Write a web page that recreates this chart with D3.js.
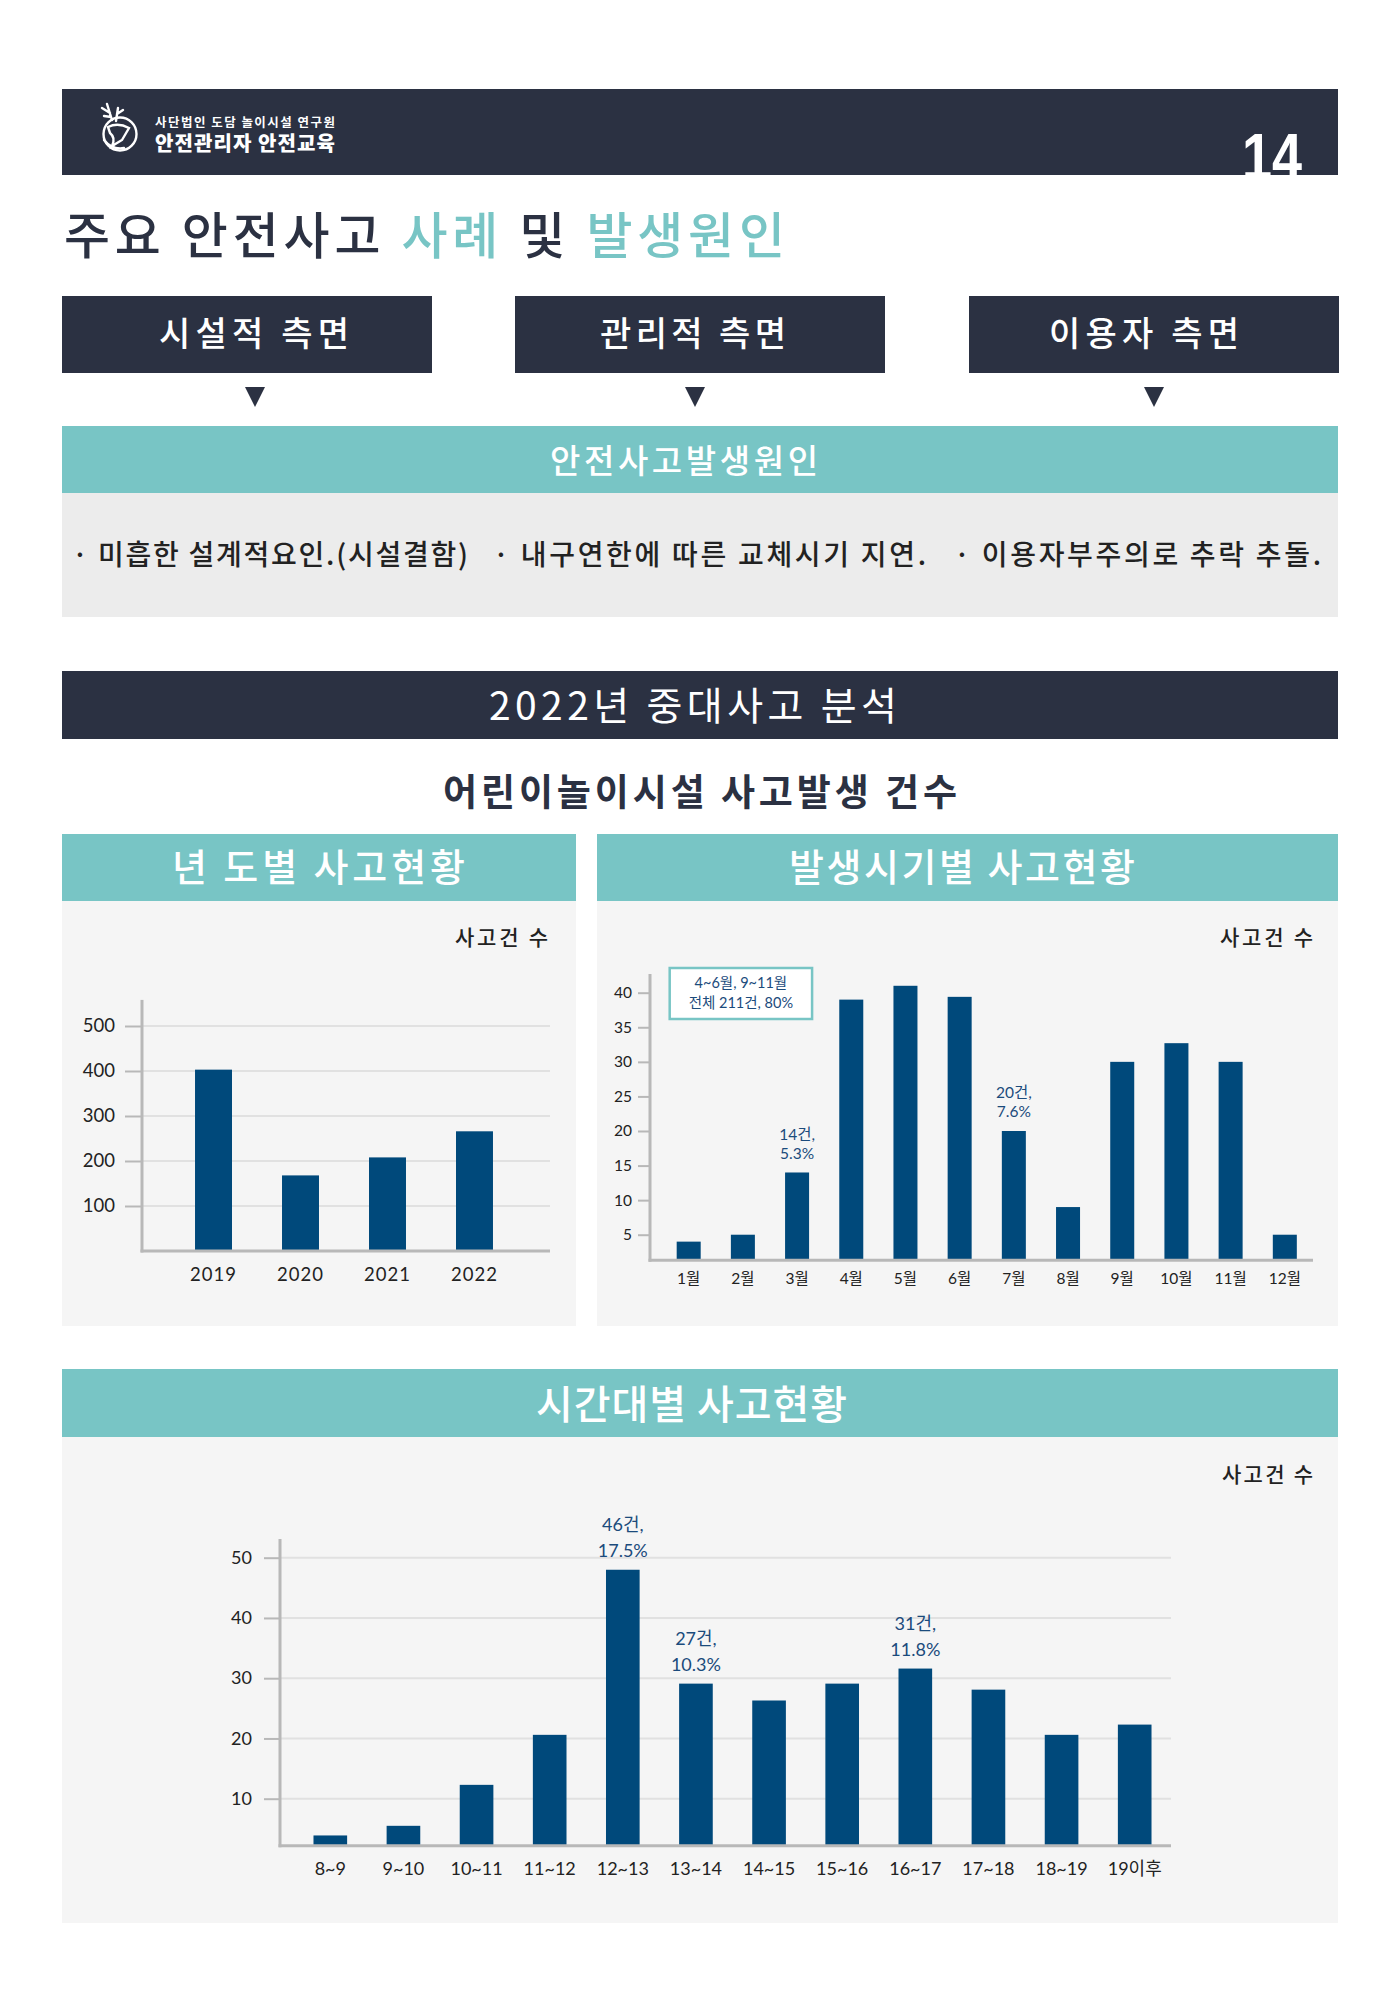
<!DOCTYPE html>
<html><head><meta charset="utf-8">
<script src="https://cdn.jsdelivr.net/npm/d3@7"></script>
<style>
html,body{margin:0;padding:0;background:#fff;}
svg{display:block;}
text{font-family:"Noto Sans CJK KR","Noto Sans",sans-serif;}
.num{font-family:Lato,"Noto Sans CJK KR",sans-serif;}
</style></head>
<body>
<script>
// ---------- data ----------
const years = ["2019", "2020", "2021", "2022"];
const yearValues = [403, 168, 208, 266];
const yearTicks = [100, 200, 300, 400, 500];

const months = ["1월","2월","3월","4월","5월","6월","7월","8월","9월","10월","11월","12월"];
const monthValues = [4, 5, 14, 39, 41, 39.4, 20, 9, 30, 32.7, 30, 5];
const monthTicks = [5, 10, 15, 20, 25, 30, 35, 40];
const monthNotes = [{cat: "3월", lines: ["14건,", "5.3%"]}, {cat: "7월", lines: ["20건,", "7.6%"]}];
const monthBoxLines = ["4~6월, 9~11월", "전체 211건, 80%"];

const hours = ["8~9","9~10","10~11","11~12","12~13","13~14","14~15","15~16","16~17","17~18","18~19","19이후"];
const hourValues = [3.9, 5.5, 12.3, 20.6, 48, 29.1, 26.3, 29.1, 31.6, 28.1, 20.6, 22.3];
const hourTicks = [10, 20, 30, 40, 50];
const hourNotes = [{cat: "12~13", lines: ["46건,", "17.5%"]}, {cat: "13~14", lines: ["27건,", "10.3%"]}, {cat: "16~17", lines: ["31건,", "11.8%"]}];

const sideLabels = ["시설적 측면", "관리적 측면", "이용자 측면"];
const causes = ["· 미흡한 설계적요인.(시설결함)", "· 내구연한에 따른 교체시기 지연.", "· 이용자부주의로 추락 추돌."];

// ---------- styles ----------
const NAVY = "#2b3142", TEAL = "#78c5c5", BAR = "#00497b", NOTE = "#1b4b7c";
const AXIS = "#b8b8b8", GRID = "#e1e1e1", PANEL = "#f5f5f5", TXT = "#222";

const svg = d3.select("body").append("svg").attr("width", 1400).attr("height", 2002);
svg.append("rect").attr("width", 1400).attr("height", 2002).attr("fill", "#fff");

// fit helper: spreads letters so text spans given width
function fit(sel, w) {
  sel.each(function() {
    this.style.letterSpacing = "0px";
    const n = this.textContent.length;
    const L = this.getComputedTextLength();
    this.style.letterSpacing = ((w - L) / Math.max(1, n - 1)) + "px";
  });
  return sel;
}
function txt(g, s, x, y, size, opts = {}) {
  const t = g.append("text").attr("x", x).attr("y", y).attr("font-size", size)
    .attr("fill", opts.fill || TXT).attr("font-weight", opts.weight || 400)
    .attr("text-anchor", opts.anchor || "start").text(s);
  if (opts.cls) t.attr("class", opts.cls);
  if (opts.w) fit(t, opts.w);
  return t;
}

// ---------- header ----------
svg.append("rect").attr("x", 62).attr("y", 89).attr("width", 1276).attr("height", 86).attr("fill", NAVY);
const logo = svg.append("g").attr("fill", "none").attr("stroke", "#fff").attr("stroke-width", 2.4).attr("stroke-linecap", "round");
logo.append("circle").attr("cx", 120).attr("cy", 134).attr("r", 16.5);
logo.append("path").attr("d", "M112,120 L107,104 M110,113 L102,108 M111,117 L104,116 M116,121 L118,108 M117,114 L123,110");
logo.append("path").attr("d", "M108,127 Q118,122 129,128 L122,140 L112,146 Q116,138 110,133 Z");
logo.append("path").attr("d", "M104,140 Q112,150 124,148");
txt(svg, "사단법인 도담 놀이시설 연구원", 155, 127, 12.5, {fill: "#fff", weight: 700, w: 180});
txt(svg, "안전관리자 안전교육", 155, 151, 20, {fill: "#fff", weight: 900, w: 180});
svg.append("text").attr("x", 1242).attr("y", 179).attr("font-size", 64).attr("font-weight", 700)
  .attr("fill", "#fff").style("font-family", "'Liberation Sans Narrow','Liberation Sans',sans-serif")
  .attr("textLength", 60).attr("lengthAdjust", "spacingAndGlyphs").text("14");

// ---------- title ----------
const title = svg.append("text").attr("x", 64).attr("y", 254).attr("font-size", 50).attr("font-weight", 500).attr("fill", NAVY);
title.append("tspan").text("주요 안전사고 ");
title.append("tspan").attr("fill", TEAL).text("사례");
title.append("tspan").text(" 및 ");
title.append("tspan").attr("fill", TEAL).text("발생원인");
fit(title, 721);

// ---------- three aspects ----------
const boxX = [62, 515, 969], boxW = 370;
const labelX = [159, 600, 1049], labelW = [190, 186, 190];
const triX = [255, 695, 1154];
sideLabels.forEach((s, i) => {
  svg.append("rect").attr("x", boxX[i]).attr("y", 296).attr("width", boxW).attr("height", 77).attr("fill", NAVY);
  txt(svg, s, labelX[i], 346, 34, {fill: "#fff", weight: 500, w: labelW[i]});
  svg.append("path").attr("d", `M${triX[i]-10},387 L${triX[i]+10},387 L${triX[i]},407 Z`).attr("fill", NAVY);
});
svg.append("rect").attr("x", 62).attr("y", 426).attr("width", 1276).attr("height", 67).attr("fill", TEAL);
txt(svg, "안전사고발생원인", 550, 473, 33, {fill: "#fff", weight: 500, w: 268});
svg.append("rect").attr("x", 62).attr("y", 493).attr("width", 1276).attr("height", 124).attr("fill", "#ececec");
const causeX = [72, 493, 954], causeW = [396, 433, 367];
causes.forEach((c, i) => txt(svg, c, causeX[i], 565, 28, {fill: TXT, weight: 500, w: causeW[i]}));

// ---------- 2022 analysis ----------
svg.append("rect").attr("x", 62).attr("y", 671).attr("width", 1276).attr("height", 68).attr("fill", NAVY);
txt(svg, "2022년 중대사고 분석", 489, 720, 39, {fill: "#fff", weight: 400, w: 408});
txt(svg, "어린이놀이시설 사고발생 건수", 443, 806, 37, {fill: NAVY, weight: 700, w: 514});

// panels
function panel(x, w, y0, y1, y2, title, tx, tw, tb, ts) {
  svg.append("rect").attr("x", x).attr("y", y1).attr("width", w).attr("height", y2 - y1).attr("fill", PANEL);
  svg.append("rect").attr("x", x).attr("y", y0).attr("width", w).attr("height", y1 - y0).attr("fill", TEAL);
  txt(svg, title, tx, tb, ts, {fill: "#fff", weight: 500, w: tw});
}
panel(62, 514, 834, 901, 1326, "년 도별 사고현황", 172, 293, 881, 38);
panel(597, 741, 834, 901, 1326, "발생시기별 사고현황", 789, 346, 881, 38);
panel(62, 1276, 1369, 1437, 1923, "시간대별 사고현황", 536, 311, 1419, 40);

// generic bar chart
function barChart(cfg) {
  const g = svg.append("g");
  const x = d3.scaleBand().domain(cfg.cats).range(cfg.xRange).padding(cfg.pad);
  const y = d3.scaleLinear().domain(cfg.yDomain).range(cfg.yRange);
  const ax = cfg.axisX, base = y(cfg.yDomain[0]);
  if (cfg.grid) {
    g.selectAll(".grid").data(cfg.ticks).join("line")
      .attr("x1", ax).attr("x2", cfg.xEnd).attr("y1", d => y(d)).attr("y2", d => y(d))
      .attr("stroke", GRID).attr("stroke-width", 2);
  }
  const yAxis = g.append("g").attr("transform", `translate(${ax},0)`)
    .call(d3.axisLeft(y).tickValues(cfg.ticks).tickSize(cfg.tickLen).tickPadding(cfg.tickPad));
  yAxis.select(".domain").remove();
  yAxis.selectAll("line").attr("stroke", AXIS).attr("stroke-width", 2);
  yAxis.selectAll("text").attr("class", "num").attr("font-size", cfg.tickFont).attr("fill", TXT)
    .style("font-family", "Lato,sans-serif");
  g.selectAll(".bar").data(cfg.values).join("rect")
    .attr("x", (d, i) => x(cfg.cats[i])).attr("width", x.bandwidth())
    .attr("y", d => y(d)).attr("height", d => base - y(d)).attr("fill", BAR);
  g.append("line").attr("x1", ax).attr("x2", ax).attr("y1", y(cfg.axisTop)).attr("y2", base + 1.5)
    .attr("stroke", AXIS).attr("stroke-width", 3);
  g.append("line").attr("x1", ax - 1.5).attr("x2", cfg.xEnd).attr("y1", base).attr("y2", base)
    .attr("stroke", AXIS).attr("stroke-width", 3);
  g.selectAll(".xl").data(cfg.cats).join("text")
    .attr("x", d => x(d) + x.bandwidth() / 2).attr("y", cfg.labelY)
    .attr("text-anchor", "middle").attr("font-size", cfg.labelFont).attr("fill", TXT)
    .style("font-family", "Lato,'Noto Sans CJK KR',sans-serif")
    .style("letter-spacing", cfg.labelLS || "0px").text(d => d);
  (cfg.notes || []).forEach(n => {
    const i = cfg.cats.indexOf(n.cat);
    const top = y(cfg.values[i]);
    n.lines.forEach((l, k) => {
      g.append("text").attr("x", x(n.cat) + x.bandwidth() / 2).attr("y", top - cfg.noteOff[k])
        .attr("text-anchor", "middle").attr("font-size", cfg.noteFont).attr("fill", NOTE)
        .style("font-family", "Lato,'Noto Sans CJK KR',sans-serif").text(l);
    });
  });
  return {x, y, g};
}

// chart 1: years
txt(svg, "사고건 수", 455, 945, 21, {fill: TXT, weight: 500, w: 93});
barChart({cats: years, values: yearValues, xRange: [145, 543], pad: 0.575,
  yDomain: [0, 500], yRange: [1251, 1026], axisTop: 558, ticks: yearTicks, grid: true,
  axisX: 142, xEnd: 550, tickLen: 17, tickPad: 10, tickFont: 18.5, labelY: 1281, labelFont: 18.5, labelLS: "1px"});

// chart 2: months
txt(svg, "사고건 수", 1220, 945, 21, {fill: TXT, weight: 500, w: 93});
const c2 = barChart({cats: months, values: monthValues, xRange: [646.5, 1327], pad: 0.557,
  yDomain: [1.3, 40], yRange: [1260.3, 992.7], axisTop: 42.7, ticks: monthTicks, grid: false,
  axisX: 650, xEnd: 1313, tickLen: 12, tickPad: 6, tickFont: 15.5, labelY: 1284, labelFont: 15.5,
  notes: monthNotes, noteOff: [32.5, 13.5], noteFont: 15.5});
// callout box
const bx0 = c2.x("1월") - 7, bx1 = c2.x("3월") + c2.x.bandwidth() + 3;
c2.g.append("rect").attr("x", bx0).attr("y", 968).attr("width", bx1 - bx0).attr("height", 51)
  .attr("fill", "#fff").attr("stroke", TEAL).attr("stroke-width", 2.5);
monthBoxLines.forEach((l, k) => c2.g.append("text").attr("x", (bx0 + bx1) / 2).attr("y", 988 + k * 20)
  .attr("text-anchor", "middle").attr("font-size", 14.5).attr("fill", NOTE)
  .style("font-family", "Lato,'Noto Sans CJK KR',sans-serif").text(l));

// chart 3: hours
txt(svg, "사고건 수", 1222, 1482, 21, {fill: TXT, weight: 500, w: 91});
barChart({cats: hours, values: hourValues, xRange: [274, 1191], pad: 0.54,
  yDomain: [2.2, 50], yRange: [1845.7, 1557.7], axisTop: 53.1, ticks: hourTicks, grid: true,
  axisX: 280, xEnd: 1171, tickLen: 16, tickPad: 12, tickFont: 18, labelY: 1875, labelFont: 18,
  notes: hourNotes, noteOff: [38.5, 12.7], noteFont: 18});
</script>
</body></html>
